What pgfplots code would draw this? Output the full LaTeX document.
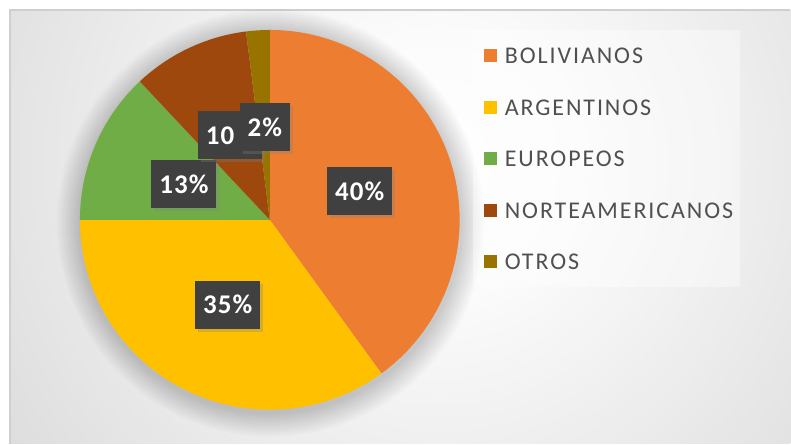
\documentclass[border=0pt]{standalone}
\usepackage{pgfplots}
\pgfplotsset{compat=1.18}
\usepackage{pgfplotstable}
\usepackage{fontspec}
\setmainfont{Carlito}
\newfontfamily\legfont[LetterSpace=8]{Carlito}
\newfontfamily\lblfont[LetterSpace=4]{Carlito}
\usetikzlibrary{shadows}

\definecolor{cBol}{HTML}{ED7D31}
\definecolor{cArg}{HTML}{FFC000}
\definecolor{cEur}{HTML}{70AD47}
\definecolor{cNor}{HTML}{9E480E}
\definecolor{cOtr}{HTML}{997300}
\definecolor{lblbox}{HTML}{404040}
\definecolor{legtext}{HTML}{505050}
\definecolor{frameline}{HTML}{CFCFCF}

\pgfdeclareradialshading{bgshade}{\pgfpoint{0bp}{0bp}}{%
  color(0bp)=(white); color(6bp)=(gray!3); color(25bp)=(gray!28); color(50bp)=(gray!28)}

% name, percentage, colour, label position (x,y), show % sign, legend row y
\pgfplotstableread{
name value color lx ly sfx legy
BOLIVIANOS 40 cBol 360 253 1 388
ARGENTINOS 35 cArg 228 139 1 336
EUROPEOS 13 cEur 184 260 1 285
NORTEAMERICANOS 10 cNor 230 309 0 233
OTROS 2 cOtr 265 317 1 182
}\piedata

\begin{document}
\begin{tikzpicture}
\begin{axis}[
  scale only axis, width=791pt, height=444pt,
  xmin=0, xmax=791, ymin=0, ymax=444,
  hide axis, clip=false,
]
\pgfplotsextra{
  % background frame
  \path (axis cs:0,0) rectangle (axis cs:791,444);
  \begin{scope}
    \clip (axis cs:10,0) rectangle (axis cs:791,434);
    \fill[gray!28] (axis cs:10,0) rectangle (axis cs:791,434);
    \shade[shading=bgshade] (axis cs:440,280) circle[radius=540pt];
  \end{scope}
  \draw[frameline, line width=1.2pt] (axis cs:10,0) -- (axis cs:10,434) -- (axis cs:791,434);
  % soft shadow under pie
  \foreach \k in {24,22,...,2}{
    \fill[black, opacity=0.014] (axis cs:271,221) circle[radius=190pt+\k pt];
  }
  % legend box
  \fill[white, opacity=0.4] (axis cs:473,157) rectangle (axis cs:741,414);
  % slices
  \def\cum{0}
  \pgfplotsforeachungrouped \i in {0,...,4}{
    \pgfplotstablegetelem{\i}{value}\of\piedata \let\val\pgfplotsretval
    \pgfplotstablegetelem{\i}{color}\of\piedata \let\col\pgfplotsretval
    \pgfmathsetmacro\sa{90-3.6*\cum}
    \pgfmathsetmacro\ea{90-3.6*(\cum+\val)}
    \edef\temp{\noexpand\fill[fill=\col] (axis cs:270,224) -- ++(\sa:190pt) arc[start angle=\sa, end angle=\ea, radius=190pt] -- cycle;}
    \temp
    \pgfmathsetmacro\cum{\cum+\val}
  }
  % data labels
  \pgfplotsforeachungrouped \i in {0,...,4}{
    \pgfplotstablegetelem{\i}{value}\of\piedata \let\val\pgfplotsretval
    \pgfplotstablegetelem{\i}{lx}\of\piedata \let\lx\pgfplotsretval
    \pgfplotstablegetelem{\i}{ly}\of\piedata \let\ly\pgfplotsretval
    \pgfplotstablegetelem{\i}{sfx}\of\piedata \let\sfx\pgfplotsretval
    \node[fill=lblbox, text=white, font=\lblfont\bfseries\fontsize{27}{27}\selectfont,
          inner xsep=8pt, minimum height=48pt,
          drop shadow={shadow xshift=3pt, shadow yshift=-3pt, opacity=0.3}]
      at (axis cs:\lx,\ly) {\val\ifnum\sfx=1 \%\else\phantom{\%}\fi};
  }
  % legend
  \pgfplotsforeachungrouped \i in {0,...,4}{
    \pgfplotstablegetelem{\i}{name}\of\piedata \let\nm\pgfplotsretval
    \pgfplotstablegetelem{\i}{color}\of\piedata \let\col\pgfplotsretval
    \pgfplotstablegetelem{\i}{legy}\of\piedata \let\ly\pgfplotsretval
    \edef\temp{\noexpand\fill[fill=\col] (axis cs:484,\ly-6.5) rectangle (axis cs:497,\ly+6.5);}
    \temp
    \node[anchor=west, inner sep=0pt, text=legtext, font=\legfont\fontsize{24}{24}\selectfont]
      at (axis cs:505,\ly) {\nm};
  }
}
\end{axis}
\end{tikzpicture}
\end{document}
